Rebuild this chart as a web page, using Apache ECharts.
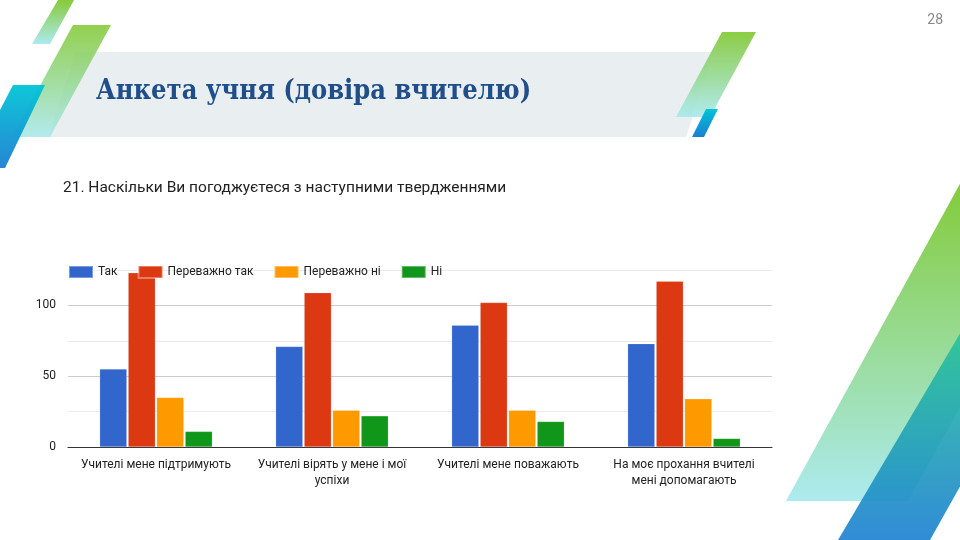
<!DOCTYPE html>
<html><head><meta charset="utf-8">
<script src="https://cdn.jsdelivr.net/npm/echarts@6/dist/echarts.min.js"></script>
<style>html,body{margin:0;padding:0;background:#fff}#c{width:960px;height:540px}</style>
</head><body><div id="c"></div>
<script>
const categories = ['Учителі мене підтримують', 'Учителі вірять у мене і мої\nуспіхи', 'Учителі мене поважають', 'На моє прохання вчителі\nмені допомагають'];
const seriesNames = ['Так', 'Переважно так', 'Переважно ні', 'Ні'];
const valuesTak = [55, 71, 86, 73];
const valuesMostlyYes = [123, 109, 102, 117];
const valuesMostlyNo = [35, 26, 26, 34];
const valuesNo = [11, 22, 18, 6];
const colors = ['#3366cc', '#dc3912', '#ff9900', '#109618'];
const titleText = 'Анкета учня (довіра вчителю)';
const subtitleText = '21. Наскільки Ви погоджуєтеся з наступними твердженнями';
const pageNumber = '28';

function grad(c1, c2) {
  return new echarts.graphic.LinearGradient(0, 0, 0, 1, [{offset: 0, color: c1}, {offset: 1, color: c2}]);
}
function poly(pts, fill, opacity) {
  return {type: 'polygon', shape: {points: pts}, style: {fill: fill, opacity: opacity == null ? 1 : opacity}, silent: true};
}

const chart = echarts.init(document.getElementById('c'));
const allValues = [valuesTak, valuesMostlyYes, valuesMostlyNo, valuesNo];
chart.setOption({
  animation: false,
  color: colors,
  graphic: [
    // title band
    poly([[76, 52], [714, 52], [686, 137], [48, 137]], '#e9eef1'),
    // left decorations
    poly([[58, 0], [74, 0], [50, 44], [32, 44]], grad('#80c830', '#a8e9ee'), 0.95),
    poly([[73, 25], [111, 25], [50, 137], [12, 137]], grad('#80c830', '#a5e7ea'), 0.85),
    poly([[13, 85], [45, 85], [5, 168], [-30, 168]], grad('#00c4d6', '#1b7fd2'), 0.95),
    // right top decorations
    poly([[722, 32], [756, 32], [710, 117], [676, 117]], grad('#80c830', '#a8e9ee'), 0.9),
    poly([[706, 109], [718, 109], [704, 137], [692, 137]], grad('#00c4d6', '#1b7fd2')),
    // right bottom decorations
    poly([[962, 180], [962, 404], [908, 501], [786, 501]], grad('#7cc82e', '#a8e9ee'), 0.95),
    poly([[962, 330], [962, 483], [930, 540], [838, 540]], grad('#28c49a', '#1a80d2'), 0.9),
    // texts
    {type: 'text', left: 96, top: 78, style: {text: titleText, font: 'bold 27px "DejaVu Serif Condensed", "DejaVu Serif", serif', fill: '#1f4e8a'}},
    {type: 'text', left: 63, top: 180, style: {text: subtitleText, font: '15.5px Roboto, Arial, sans-serif', fill: '#222'}},
    {type: 'text', right: 17, top: 13, style: {text: pageNumber, font: '14px Roboto, Arial, sans-serif', fill: '#888'}}
  ],
  legend: {
    left: 63, top: 260, itemWidth: 24, itemHeight: 12, itemGap: 20,
    icon: 'rect',
    textStyle: {fontSize: 12, color: '#222', fontFamily: 'Roboto, Arial, sans-serif'},
    data: seriesNames
  },
  grid: {left: 68, right: 188, top: 270, bottom: 93, containLabel: false},
  xAxis: {
    type: 'category', data: categories,
    axisLine: {lineStyle: {color: '#333', width: 1}},
    axisTick: {show: false},
    axisLabel: {fontSize: 12, color: '#222', fontFamily: 'Roboto, Arial, sans-serif', interval: 0, margin: 10, lineHeight: 16}
  },
  yAxis: {
    type: 'value', min: 0, max: 125, interval: 25,
    axisLine: {show: false}, axisTick: {show: false},
    axisLabel: {fontSize: 12, color: '#222', fontFamily: 'Roboto, Arial, sans-serif', margin: 12,
      formatter: v => (v % 50 === 0 ? String(v) : '')},
    splitLine: {lineStyle: {color: ['#cccccc', '#ebebeb'], width: 1}}
  },
  series: seriesNames.map((n, i) => ({
    name: n, type: 'bar', data: allValues[i],
    barGap: '5%', barCategoryGap: '36%',
    itemStyle: {borderColor: 'rgba(255,255,255,0.35)', borderWidth: 0.5}
  }))
});
</script></body></html>
